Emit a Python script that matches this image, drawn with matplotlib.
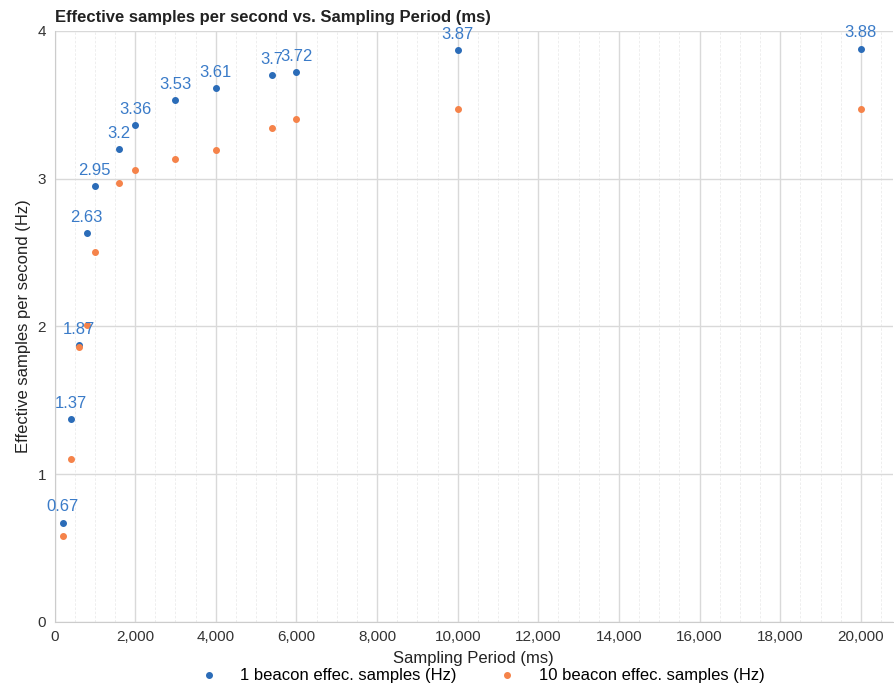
import matplotlib
matplotlib.use("Agg")
import matplotlib.pyplot as plt
from matplotlib.ticker import MultipleLocator, FuncFormatter

plt.rcParams['font.family'] = ['Liberation Sans', 'DejaVu Sans']

# sampling period (ms)
period = [200, 400, 600, 800, 1000, 1600, 2000, 3000, 4000, 5400, 6000, 10000, 20000]
# effective samples per second
one_beacon = [0.67, 1.37, 1.87, 2.63, 2.95, 3.2, 3.36, 3.53, 3.61, 3.7, 3.72, 3.87, 3.88]
ten_beacon = [0.58, 1.1, 1.86, 2.01, 2.5, 2.97, 3.06, 3.13, 3.19, 3.34, 3.4, 3.47, 3.47]
labels = ["0.67", "1.37", "1.87", "2.63", "2.95", "3.2", "3.36", "3.53", "3.61", "3.7", "3.72", "3.87", "3.88"]

blue = "#2b6cb8"
orange = "#f5834a"

fig = plt.figure(figsize=(8.94, 6.84), dpi=100)
ax = fig.add_axes([0.061, 0.091, 0.938, 0.864])

ax.scatter(period, one_beacon, s=16, color=blue, zorder=3, label="1 beacon effec. samples (Hz)")
ax.scatter(period, ten_beacon, s=16, color=orange, zorder=3, label="10 beacon effec. samples (Hz)")

for xv, yv, t in zip(period, one_beacon, labels):
    ax.annotate(t, (xv, yv), xytext=(0, 6), textcoords="offset points",
                ha="center", va="bottom", color="#3a7bc8", fontsize=12)

ax.set_xlim(0, 20800)
ax.set_ylim(0, 4)
ax.xaxis.set_major_locator(MultipleLocator(2000))
ax.xaxis.set_minor_locator(MultipleLocator(500))
ax.yaxis.set_major_locator(MultipleLocator(1))
ax.xaxis.set_major_formatter(FuncFormatter(lambda v, p: "{:,.0f}".format(v)))

ax.grid(which="major", color="#d9d9d9", linewidth=1.0, zorder=0)
ax.grid(which="minor", axis="x", color="#ebebeb", linewidth=0.6, linestyle=(0, (3, 2)), zorder=0)
ax.set_axisbelow(True)

for s in ["top", "right"]:
    ax.spines[s].set_visible(False)
for s in ["left", "bottom"]:
    ax.spines[s].set_color("#cccccc")
ax.tick_params(which="both", length=0, labelsize=11, colors="#333333", pad=6)

ax.set_title("Effective samples per second vs. Sampling Period (ms)", loc="left",
             fontsize=12, fontweight="bold", color="#222222", pad=6)
ax.set_xlabel("Sampling Period (ms)", fontsize=12, color="#222222", labelpad=5)
ax.set_ylabel("Effective samples per second (Hz)", fontsize=12, color="#222222", labelpad=5)

fig.legend(*ax.get_legend_handles_labels(), loc="center", bbox_to_anchor=(0.535, 0.013),
           ncol=2, frameon=False, fontsize=12, handletextpad=0.9, columnspacing=2.0,
           borderpad=0.2)

fig.savefig("out.png", dpi=100)
